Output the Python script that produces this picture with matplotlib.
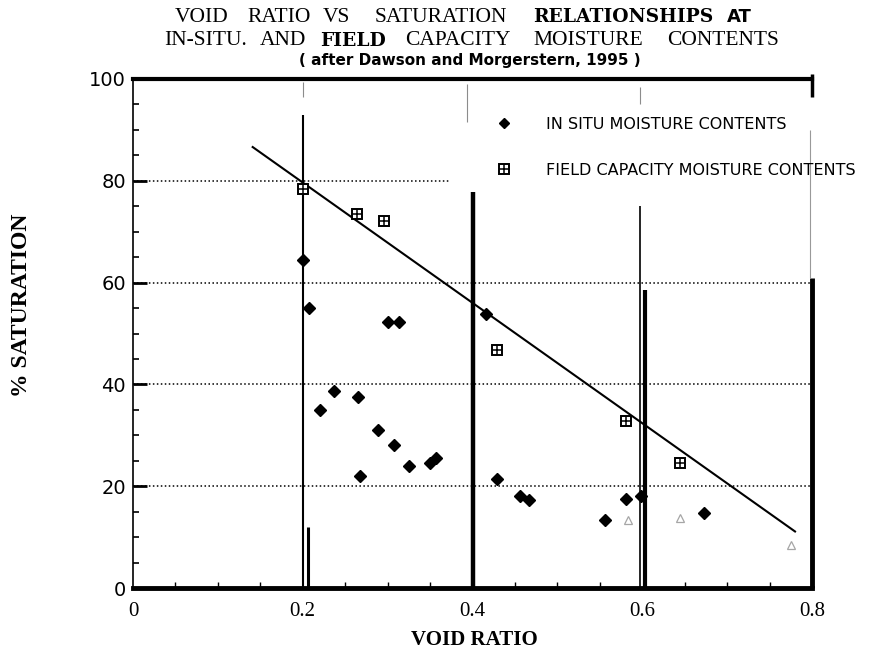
import numpy as np
import matplotlib.pyplot as plt
from matplotlib.lines import Line2D

# void ratio (e) against degree of saturation (%)
in_situ_e = [0.200, 0.207, 0.220, 0.237, 0.265, 0.267, 0.289, 0.301, 0.307, 0.313,
             0.325, 0.350, 0.357, 0.416, 0.429, 0.456, 0.466, 0.556, 0.581, 0.598, 0.673]
in_situ_s = [64.4, 55.0, 35.0, 38.7, 37.5, 22.0, 31.1, 52.3, 28.0, 52.3,
             24.0, 24.6, 25.6, 53.8, 21.4, 18.1, 17.2, 13.4, 17.5, 18.1, 14.8]

field_e = [0.200, 0.264, 0.296, 0.429, 0.581, 0.644]
field_s = [78.4, 73.5, 72.2, 46.8, 32.9, 24.5]

# faint, half printed symbols
faint_e = [0.583, 0.644, 0.775]
faint_s = [13.4, 13.7, 8.4]

# trend line S = b0 + b1 * e
b0, b1 = 103.3, -118.2
e_line = [0.141, 0.780]

y_ticks = [0, 20, 40, 60, 80, 100]
x_ticks = [0, 0.2, 0.4, 0.6, 0.8]
x_ticklabels = ["0", "0.2", "0.4", "0.6", "0.8"]

W, H = 891, 671
fig = plt.figure(figsize=(W / 100, H / 100), dpi=100)
ax = fig.add_axes([133 / W, 1 - 588 / H, (812 - 133) / W, (588 - 79) / H])
ax.set_xlim(0, 0.8)
ax.set_ylim(0, 100)

# dotted horizontal rules
dots = (0, (1, 1.6))
ax.hlines([20, 40, 60], 0, 0.8, colors="k", linestyles=dots, lw=1.1)
ax.hlines(80, 0, 0.372, colors="k", linestyles=dots, lw=1.1)

# vertical rules at the major void ratios (broken, uneven print)
ax.vlines(0.2, 0, 93, colors="k", lw=1.5)
ax.vlines(0.2, 96.5, 99.5, colors="0.55", lw=0.8)
ax.vlines(0.206, 0, 12, colors="k", lw=2.2)
ax.vlines(0.4, 0, 77.8, colors="k", lw=3.2)
ax.vlines(0.393, 91.5, 99, colors="0.55", lw=0.8)
ax.vlines(0.597, 0, 75, colors="k", lw=1.2)
ax.vlines(0.603, 0, 58.5, colors="k", lw=3)
ax.vlines(0.597, 95, 98.5, colors="0.55", lw=0.8)
ax.vlines(0.8, 0, 61, colors="k", lw=3.5, clip_on=False)
ax.vlines(0.798, 61, 90, colors="0.6", lw=0.8)
ax.vlines(0.8, 96.5, 101, colors="k", lw=2.5, clip_on=False)

# trend line
e_line = np.array(e_line)
ax.plot(e_line, b0 + b1 * e_line, color="k", lw=1.5)

# data
ax.plot(in_situ_e, in_situ_s, ls="none", marker="D", ms=6, color="k")
ax.plot(field_e, field_s, ls="none", marker="s", ms=7.5, mfc="white", mec="k", mew=1.4)
ax.plot(field_e, field_s, ls="none", marker="+", ms=7.5, color="k", mew=1.1)
ax.plot(faint_e, faint_s, ls="none", marker="^", ms=6, mfc="none", mec="0.65", mew=0.9)

# legend
h_is = Line2D([], [], ls="none", marker="D", ms=5, color="k")
h_sq = Line2D([], [], ls="none", marker="s", ms=6.5, mfc="white", mec="k", mew=1.4)
h_pl = Line2D([], [], ls="none", marker="+", ms=6.5, color="k", mew=1.1)
ax.legend([h_is, (h_sq, h_pl)],
          ["IN SITU MOISTURE CONTENTS", "FIELD CAPACITY MOISTURE CONTENTS"],
          loc="center left", bbox_to_anchor=(0.428, 86.6), bbox_transform=ax.transData,
          frameon=False, handlelength=1.0, handletextpad=2.1, labelspacing=1.95,
          borderpad=0, borderaxespad=0,
          prop={"family": "DejaVu Sans", "size": 11.5})

# spines and ticks
ax.spines["right"].set_visible(False)
ax.spines["left"].set_linewidth(1.2)
ax.spines["bottom"].set_linewidth(3.5)
ax.spines["top"].set_linewidth(3)

ax.set_yticks(y_ticks)
ax.set_yticks(np.arange(0, 101, 5), minor=True)
ax.set_yticklabels([str(v) for v in y_ticks], family="DejaVu Sans", fontsize=14)
ax.tick_params(axis="y", which="major", direction="in", length=10, width=2, pad=5)
ax.tick_params(axis="y", which="minor", direction="in", length=4, width=1.2)

ax.set_xticks(x_ticks)
ax.set_xticks(np.arange(0, 0.81, 0.05), minor=True)
ax.set_xticklabels(x_ticklabels, family="Liberation Serif", fontsize=15)
ax.tick_params(axis="x", which="major", length=0, pad=10)
ax.tick_params(axis="x", which="minor", direction="in", length=4, width=1)


def px(x, y):
    return x / W, 1 - y / H


serif = {"family": "Liberation Serif", "size": 15.5}
heavy = {"family": "DejaVu Serif", "size": 13.5, "weight": "heavy"}
bsans = {"family": "DejaVu Sans", "size": 13, "weight": "bold"}

title_rows = [
    (17.5, [("VOID", 175, serif), ("RATIO", 247, serif), ("VS", 323, serif),
            ("SATURATION", 375, serif), ("RELATIONSHIPS", 533, heavy), ("AT", 727, bsans)]),
    (40.5, [("IN-SITU.", 164, serif), ("AND", 260, serif), ("FIELD", 320, heavy),
            ("CAPACITY", 405, serif), ("MOISTURE", 533, serif), ("CONTENTS", 667, serif)]),
]
for y, words in title_rows:
    for word, x, font in words:
        fig.text(*px(x, y), word, ha="left", va="center", fontdict=font)

fig.text(*px(470, 60), "( after Dawson and Morgerstern, 1995 )", ha="center", va="center",
         family="DejaVu Sans", fontsize=11, weight="heavy")

fig.text(*px(474, 640), "VOID RATIO", ha="center", va="center",
         family="Liberation Serif", fontsize=15, weight="bold")
fig.text(*px(22, 305), "% SATURATION", ha="center", va="center", rotation=90,
         family="Liberation Serif", fontsize=17, weight="bold")

fig.savefig("out.png", dpi=100)
